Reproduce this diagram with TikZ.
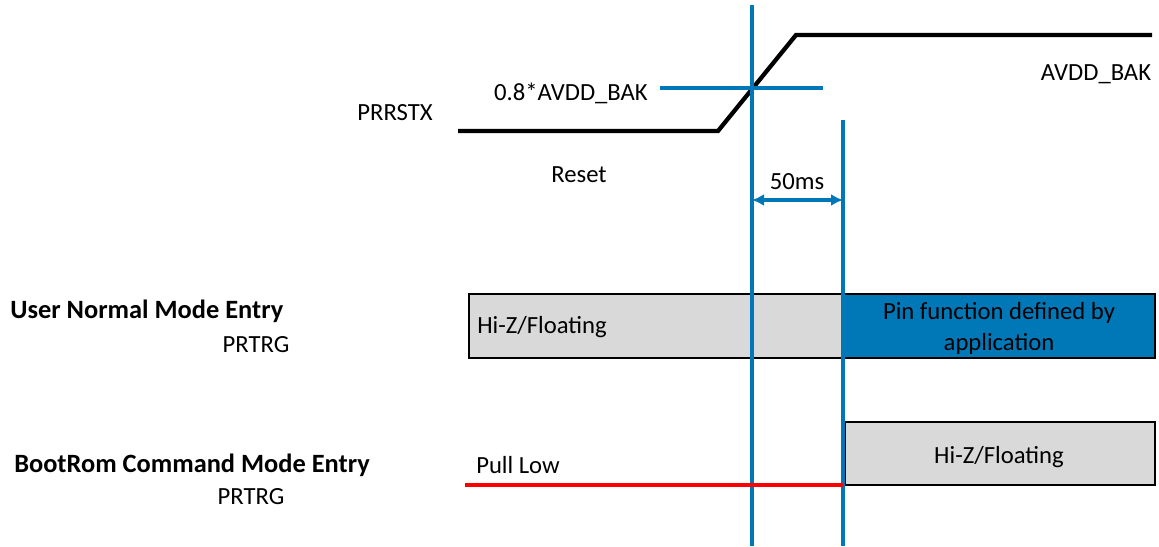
\documentclass[tikz,border=0pt]{standalone}
\usepackage{fontspec}
\setmainfont{Carlito}
\usepackage{xcolor}
\usepackage{tikz}
\usetikzlibrary{arrows.meta}
\definecolor{sigblue}{HTML}{0078B8}
\definecolor{boxgray}{HTML}{D9D9D9}
\definecolor{sigred}{HTML}{FF0000}

\begin{document}
\begin{tikzpicture}[x=0.75pt, y=-0.75pt,
    every node/.style={font=\fontsize{18.5}{22}\selectfont, inner sep=0pt},
    marker/.style={draw=sigblue, line width=3pt},
    signal/.style={draw=black, line width=3.2pt},
    statebox/.style={draw=black, line width=1pt, fill=boxgray},
    modelabel/.style={anchor=west, font=\fontsize{19.8}{22}\selectfont\bfseries}]
    \useasboundingbox (0,0) rectangle (1159,546);
    % Reference coordinates
    \coordinate (rstLow) at (458,131);
    \coordinate (rampA) at (718,131);
    \coordinate (rampB) at (796,35);
    \coordinate (rstHigh) at (1152,35);
    \coordinate (mark1top) at (752,5);
    \coordinate (mark1bot) at (752,546);
    \coordinate (mark2top) at (843,120);
    \coordinate (mark2bot) at (843,546);
    \coordinate (thrL) at (660,88);
    \coordinate (thrR) at (823,88);
    \coordinate (dlyL) at (752,200);
    \coordinate (dlyR) at (843,200);
    \coordinate (lowL) at (465,485);
    \coordinate (lowR) at (843,485);
    % Boxes
    \draw[statebox] (469,294) rectangle (843,358);
    \node[anchor=west] (hiz1) at (477,327) {Hi-Z/Floating};
    \draw[statebox, fill=sigblue] (843,294) rectangle (1155,358);
    \node[align=center, font=\fontsize{18.5}{23.2}\selectfont] (pinfn) at (999,328) {Pin function defined by\\application};
    \draw[statebox] (845,422) rectangle (1155,485);
    \node (hiz2) at (999,457) {Hi-Z/Floating};
    % PRRSTX signal
    \draw[signal] (rstLow) -- (rampA) -- (rampB) -- (rstHigh);
    \node (prrstx) at (395,113) {PRRSTX};
    \node (avdd) at (1096,74) {AVDD\_BAK};
    \node (reset) at (579,175) {Reset};
    % Markers
    \draw[marker] (thrL) -- (thrR);
    \node[anchor=east] (thr) at (648,93) {0.8*AVDD\_BAK};
    \draw[marker] (mark1top) -- (mark1bot);
    \draw[marker] (mark2top) -- (mark2bot);
    \draw[sigblue, line width=2.5pt, {Latex[length=9pt,width=9pt]}-{Latex[length=9pt,width=9pt]}] (dlyL) -- (dlyR);
    \node (delay) at (797,182) {50ms};
    % Pull low
    \draw[sigred, line width=3pt] (lowL) -- (lowR);
    \node[anchor=west] (pull) at (476,465) {Pull Low};
    % Left labels
    \node[modelabel] (usr) at (10,311) {User Normal Mode Entry};
    \node (prtrg1) at (256,345) {PRTRG};
    \node[modelabel] (boot) at (14,465) {BootRom Command Mode Entry};
    \node (prtrg2) at (251,497) {PRTRG};
\end{tikzpicture}
\end{document}
